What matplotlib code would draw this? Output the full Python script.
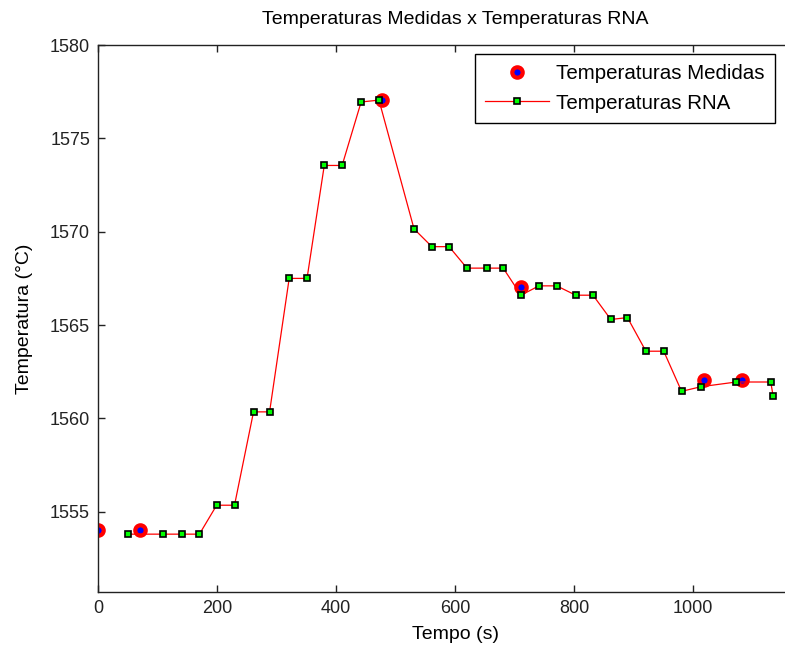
import matplotlib
matplotlib.use('Agg')
import matplotlib.pyplot as plt
from matplotlib.ticker import MultipleLocator

plt.rcParams['font.family'] = ['Liberation Sans', 'DejaVu Sans']

# medidas (s, °C)
t_medidas = [0, 70, 477, 711, 1019, 1083]
temp_medidas = [1554.0, 1554.0, 1577.05, 1567.05, 1562.05, 1562.05]

# saida da rede neural
t_rna = [50, 108, 140, 170, 199, 229, 261, 288, 321, 351, 380, 410, 442, 472,
         531, 561, 590, 620, 654, 681, 711, 741, 771, 803, 832, 862, 890, 921,
         951, 981, 1014, 1073, 1131, 1135]
temp_rna = [1553.8, 1553.8, 1553.8, 1553.8, 1555.35, 1555.35, 1560.35, 1560.35,
            1567.5, 1567.5, 1573.55, 1573.55, 1576.95, 1577.05, 1570.15, 1569.2,
            1569.2, 1568.05, 1568.05, 1568.05, 1566.6, 1567.1, 1567.1, 1566.6,
            1566.6, 1565.3, 1565.4, 1563.6, 1563.6, 1561.45, 1561.7, 1561.95,
            1561.95, 1561.2]

xticks = [0, 200, 400, 600, 800, 1000]

fig = plt.figure(figsize=(7.85, 6.5), dpi=100)
ax = fig.add_axes([0.1253, 0.0892, 0.9088, 0.8415])

ax.plot(t_medidas, temp_medidas, 'o', color='red', markerfacecolor='blue',
        markeredgecolor='red', markersize=7.5, markeredgewidth=3,
        label='Temperaturas Medidas')
ax.plot(t_rna, temp_rna, '-s', color='red', linewidth=0.9,
        markerfacecolor='#00ff00', markeredgecolor='black', markersize=5,
        markeredgewidth=1.2, label='Temperaturas RNA')

ax.set_xlim(0, 1200)
ax.set_ylim(1550.7, 1580)
ax.set_xticks(xticks)
ax.yaxis.set_major_locator(MultipleLocator(5))

ax.tick_params(axis='both', direction='in', length=5, width=1, labelsize=13,
               top=True, right=True, pad=6, colors='#222222')
for s in ax.spines.values():
    s.set_linewidth(1)
    s.set_color('#222222')

ax.set_title('Temperaturas Medidas x Temperaturas RNA', fontsize=14, pad=15)
ax.set_xlabel('Tempo (s)', fontsize=14, labelpad=6)
ax.set_ylabel('Temperatura (°C)', fontsize=14, labelpad=12)

leg = ax.legend(loc='upper right', bbox_to_anchor=(775 / 785, 1 - 54 / 650),
                bbox_transform=fig.transFigure, borderaxespad=0,
                fontsize=14.8, handlelength=3.1, handletextpad=0.35,
                labelspacing=0.5, borderpad=0.5, fancybox=False,
                framealpha=1, edgecolor='black')
leg.get_frame().set_linewidth(1)

fig.savefig('out.png', dpi=100)
